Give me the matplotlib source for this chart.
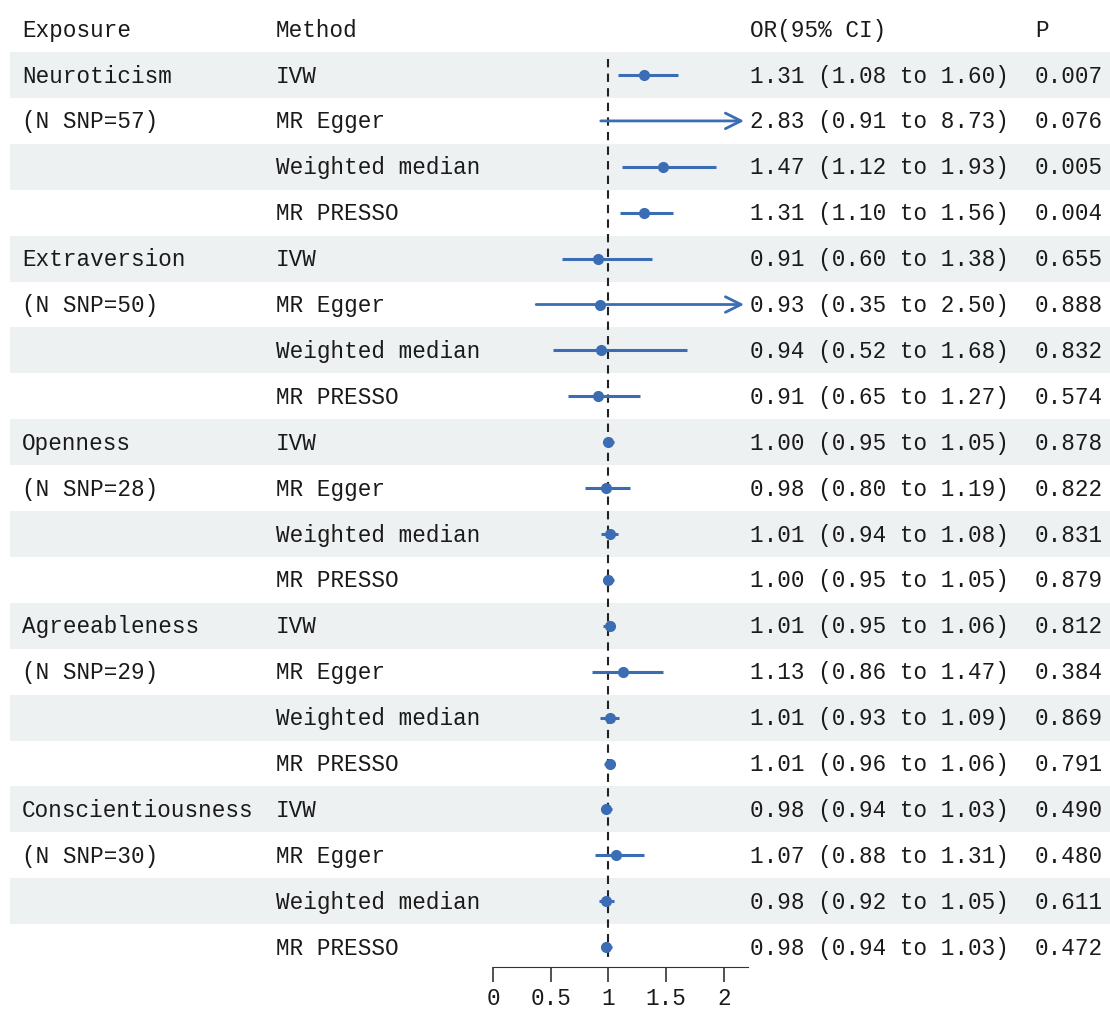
import matplotlib.pyplot as plt
from matplotlib.patches import Rectangle
import matplotlib.transforms as mtransforms

exposures = ["Neuroticism", "Extraversion", "Openness", "Agreeableness", "Conscientiousness"]
n_snp = [57, 50, 28, 29, 30]
methods = ["IVW", "MR Egger", "Weighted median", "MR PRESSO"]

or_est = [1.31, 2.83, 1.47, 1.31,
          0.91, 0.93, 0.94, 0.91,
          1.00, 0.98, 1.01, 1.00,
          1.01, 1.13, 1.01, 1.01,
          0.98, 1.07, 0.98, 0.98]
ci_low = [1.08, 0.91, 1.12, 1.10,
          0.60, 0.35, 0.52, 0.65,
          0.95, 0.80, 0.94, 0.95,
          0.95, 0.86, 0.93, 0.96,
          0.94, 0.88, 0.92, 0.94]
ci_high = [1.60, 8.73, 1.93, 1.56,
           1.38, 2.50, 1.68, 1.27,
           1.05, 1.19, 1.08, 1.05,
           1.06, 1.47, 1.09, 1.06,
           1.03, 1.31, 1.05, 1.03]
p_vals = ["0.007", "0.076", "0.005", "0.004",
          "0.655", "0.888", "0.832", "0.574",
          "0.878", "0.822", "0.831", "0.879",
          "0.812", "0.384", "0.869", "0.791",
          "0.490", "0.480", "0.611", "0.472"]
xticks = [0, 0.5, 1, 1.5, 2]

W, H = 1110, 1012
font = "Liberation Mono"
fs = 16.3
blue = "#3a6db4"
txt = "#1a1a1a"

fig = plt.figure(figsize=(W / 100, H / 100), dpi=100)
ax = fig.add_axes([493 / W, (H - 968) / H, (748 - 493) / W, 968 / H])
ax.set_xlim(0, 2.21)
ax.set_ylim(20.433, -0.656)
ax.patch.set_alpha(0)

# shaded rows (behind everything)
trans = mtransforms.blended_transform_factory(fig.transFigure, ax.transData)
for r in range(1, 21, 2):
    ax.add_patch(Rectangle((10 / W, r - 0.5), 1 - 10 / W, 1.0, transform=trans,
                           facecolor="#eef1f1", edgecolor="none", zorder=0,
                           clip_on=False))

# header
cols = {"exp": 22 / W, "meth": 276 / W, "or": 750 / W, "p": 1035 / W}
for key, lab in [("exp", "Exposure"), ("meth", "Method"), ("or", "OR(95% CI)"), ("p", "P")]:
    ax.text(cols[key], 0, lab, transform=trans, fontsize=fs, family=font, color=txt,
            va="center", ha="left")

# rows
for i in range(20):
    r = i + 1
    g, m = divmod(i, 4)
    if m == 0:
        ax.text(cols["exp"], r, exposures[g], transform=trans, fontsize=fs, family=font,
                color=txt, va="center")
    if m == 1:
        ax.text(cols["exp"], r, "(N SNP=%d)" % n_snp[g], transform=trans, fontsize=fs,
                family=font, color=txt, va="center")
    ax.text(cols["meth"], r, methods[m], transform=trans, fontsize=fs, family=font,
            color=txt, va="center")
    ax.text(cols["or"], r, "%.2f (%.2f to %.2f)" % (or_est[i], ci_low[i], ci_high[i]),
            transform=trans, fontsize=fs, family=font, color=txt, va="center")
    ax.text(cols["p"], r, p_vals[i], transform=trans, fontsize=fs, family=font,
            color=txt, va="center")

    xmax = ax.get_xlim()[1] - 0.01
    if ci_high[i] > xmax:
        ax.annotate("", xy=(xmax, r), xytext=(ci_low[i], r),
                    arrowprops=dict(arrowstyle="->", color=blue, lw=2,
                                    mutation_scale=28), zorder=3)
    else:
        ax.plot([ci_low[i], ci_high[i]], [r, r], color=blue, lw=2.2, zorder=3,
                solid_capstyle="butt")
    if or_est[i] < xmax:
        ax.plot(or_est[i], r, "o", color=blue, markersize=7, zorder=4)

# reference line
ax.plot([1, 1], [0.65, 20.35], color="#222222", lw=1.5, ls=(0, (4, 3)), zorder=2)

for s in ["top", "right", "left"]:
    ax.spines[s].set_visible(False)
ax.spines["bottom"].set_bounds(0, 2.21)
ax.spines["bottom"].set_color("#333333")
ax.set_yticks([])
ax.set_xticks(xticks)
ax.set_xticklabels(["0", "0.5", "1", "1.5", "2"], family=font, fontsize=fs, color=txt)
ax.tick_params(axis="x", length=11, width=1.2, color="#333333", pad=3)

fig.savefig("out.png", dpi=100)
